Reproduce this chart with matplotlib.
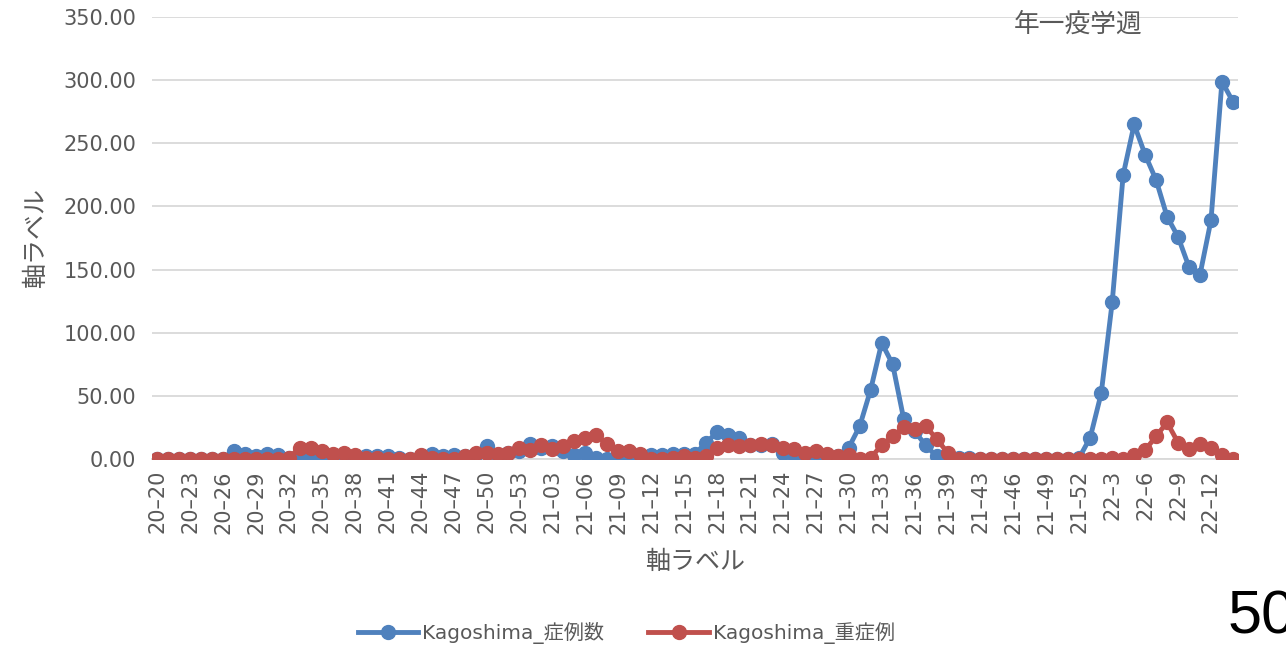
import matplotlib
matplotlib.use('Agg')
import matplotlib.pyplot as plt
from matplotlib.ticker import FormatStrFormatter

plt.rcParams['font.family'] = ['DejaVu Sans', 'Noto Sans CJK JP']

# week labels: 2020 wk20-53, 2021 wk01-52 (no 42), 2022 wk1-14
weeks = ([f'20–{w}' for w in range(20, 54)]
         + [f'21–{w:02d}' for w in range(1, 53) if w != 42]
         + [f'22–{w}' for w in range(1, 15)])

cases = [0, 0, 0, 0, 0, 0, 0, 6, 4, 2, 4, 3, 1, 3, 1, 2, 1, 0, 0, 2,
         2, 2, 1, 0, 2, 4, 2, 3, 2, 4, 10, 3, 5, 6, 12, 9, 10, 6, 3, 5,
         1, 0, 0, 0, 1, 3, 3, 4, 4, 4, 13, 21, 19, 17, 11, 11, 12, 5, 3, 1,
         2, 2, 2, 9, 26, 55, 92, 75, 32, 22, 11, 2, 1, 1, 1, 0, 0, 0, 0, 0,
         0, 0, 0, 0, 1, 17, 52, 124, 225, 265, 241, 221, 192, 176, 152, 146, 189, 299, 283]
severe = [0, 0, 0, 0, 0, 0, 0, 0, 0, 0, 0, 0, 1, 9, 9, 6, 4, 5, 3, 1,
          1, 0, 0, 0, 3, 1, 0, 0, 2, 5, 5, 4, 5, 9, 7, 11, 8, 10, 14, 17,
          19, 12, 6, 6, 4, 0, 0, 1, 2, 1, 2, 9, 11, 10, 11, 12, 11, 9, 8, 5,
          6, 4, 2, 3, 0, 1, 11, 18, 25, 24, 26, 16, 5, 0, 0, 0, 0, 0, 0, 0,
          0, 0, 0, 0, 0, 0, 0, 1, 0, 3, 7, 18, 29, 13, 8, 12, 9, 3, 0]

grey = '#595959'
fig = plt.figure(figsize=(12.86, 6.46), dpi=100)
ax = fig.add_axes([0.118, 0.2895, 0.845, 0.684])

x = list(range(len(weeks)))
ax.plot(x, cases, color='#4f81bd', lw=3.5, marker='o', ms=10, label='Kagoshima_症例数', zorder=3)
ax.plot(x, severe, color='#c0504d', lw=3.5, marker='o', ms=10, label='Kagoshima_重症例', zorder=4)

ax.set_xlim(-0.5, len(weeks) - 0.5)
ax.set_ylim(0, 350)
ax.set_yticks(range(0, 351, 50))
ax.yaxis.set_major_formatter(FormatStrFormatter('%.2f'))
ax.set_xticks(x[::3])
ax.set_xticklabels(weeks[::3], rotation=90)
ax.tick_params(length=0, labelsize=15, colors=grey)
ax.tick_params(axis='y', pad=11)
ax.tick_params(axis='x', pad=8)
ax.grid(axis='y', color='#d9d9d9', lw=1.3)
ax.set_axisbelow(True)
for s in ['top', 'right', 'left']:
    ax.spines[s].set_visible(False)
ax.spines['bottom'].set_color('#d9d9d9')
ax.spines['bottom'].set_linewidth(1.3)

ax.set_xlabel('軸ラベル', fontsize=18, color=grey, labelpad=12)
ax.set_ylabel('軸ラベル', fontsize=18, color=grey, labelpad=11)
ax.text(0.793, 0.983, '年一疫学週', transform=ax.transAxes, fontsize=18.5,
        color=grey, ha='left', va='center')

fig.legend(loc='center', bbox_to_anchor=(0.487, 0.02), ncol=2, frameon=False,
           fontsize=14.5, labelcolor=grey, handlelength=3.0, columnspacing=2.2,
           handletextpad=0.2)

fig.text(1228 / 1286, 0.02, '50', fontsize=44, family='Liberation Sans', color='black')

fig.savefig('out.png', dpi=100)
